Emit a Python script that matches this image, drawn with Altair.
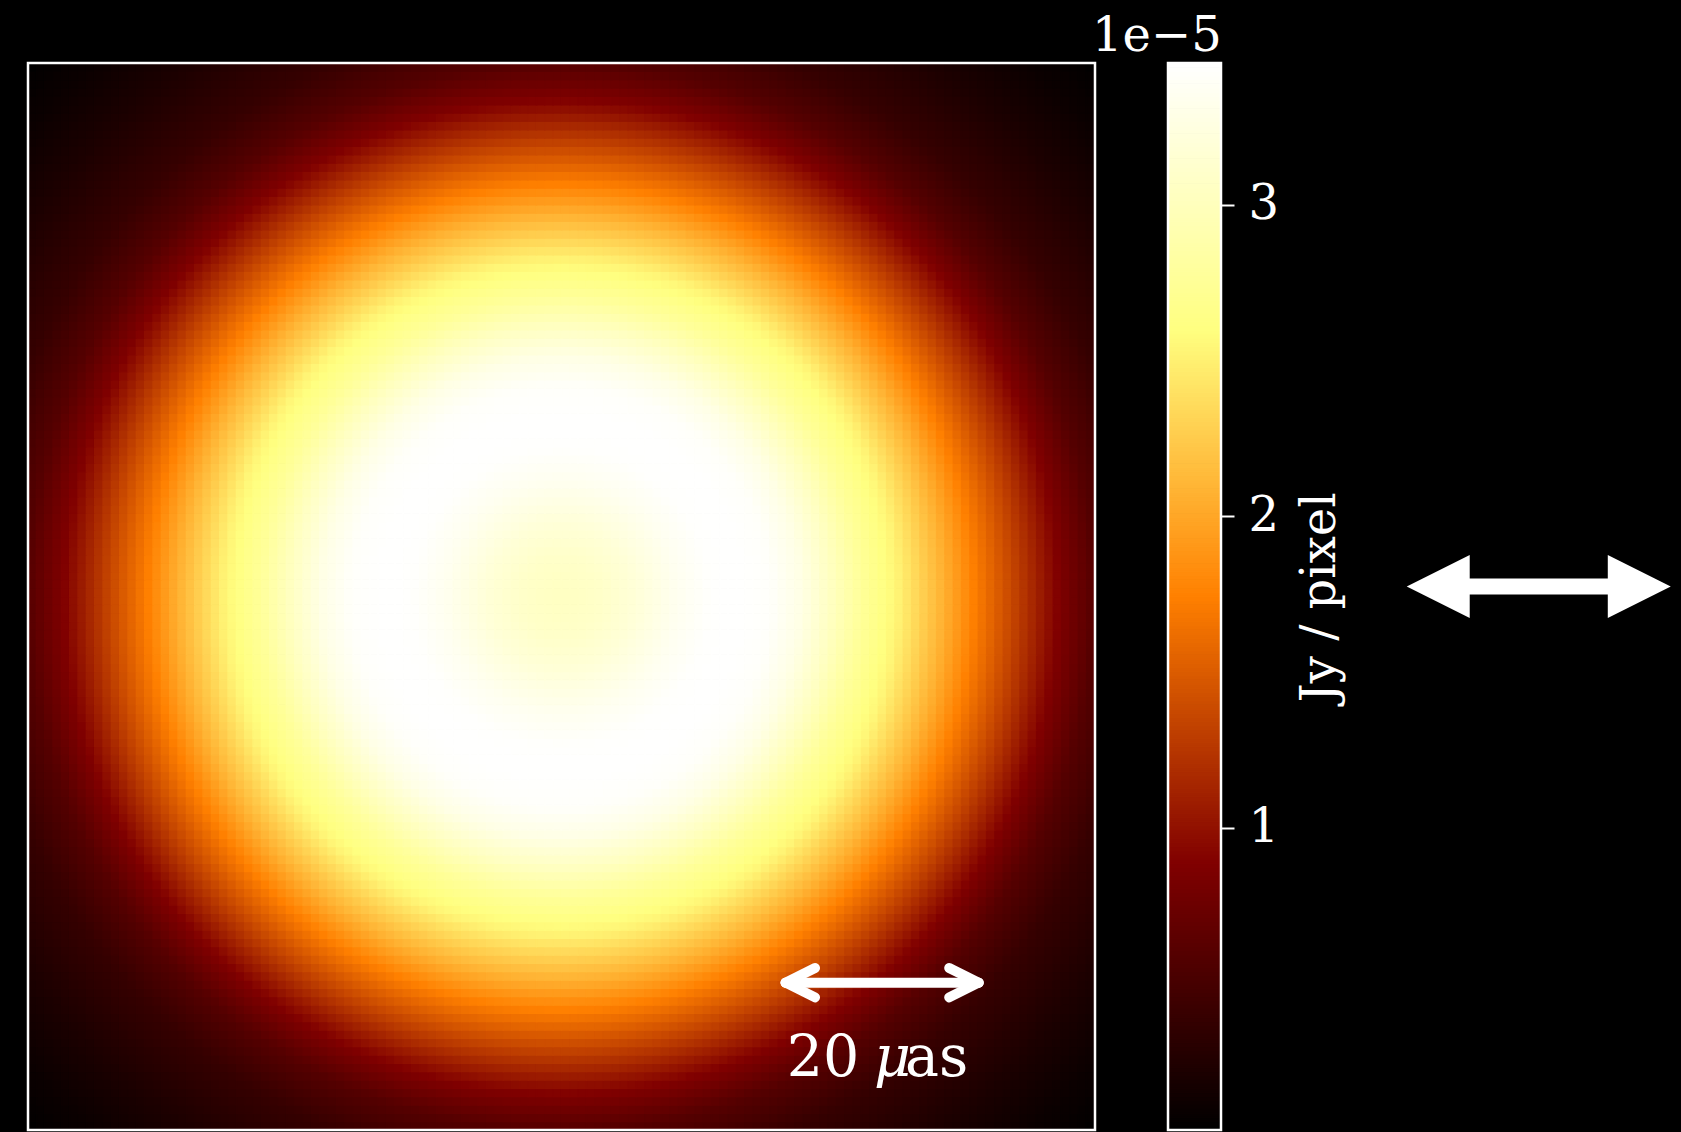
import numpy as np
import pandas as pd
import altair as alt

# ---- data ----
# azimuthally averaged brightness profile of the blurred ring
RADIUS_UAS = [0.0, 3.94, 6.99, 11.42, 14.76, 17.71, 20.67, 23.62, 26.57, 29.52,
              33.07, 37.49, 40.64, 44.97, 48.91, 52.55, 57.08, 63.87, 69.48, 74.79]
FLUX_1E5 = [3.04, 3.09, 3.18, 3.35, 3.44, 3.45, 3.42, 3.28, 3.04, 2.77,
            2.53, 2.09, 1.74, 1.30, 0.89, 0.60, 0.39, 0.22, 0.11, 0.03]

N_PIX = 128            # image pixels per side
FOV_UAS = 105.0        # field of view
CBAR_MIN = 0.031       # colour-scale limits (1e-5 Jy / pixel)
CBAR_MAX = 3.454
CBAR_TICKS = [1, 2, 3]
CBAR_TITLE = "Jy / pixel"
CBAR_OFFSET = "1e\u22125"

SCALEBAR_X = [22.05, 41.05]   # μas
SCALEBAR_Y = -38.0
SCALEBAR_LABEL = ["20", "\u03bc", "as"]

AFMHOT = ["#000000", "#800000", "#ff8000", "#ffff80", "#ffffff"]
FONT = "DejaVu Serif"
W_IMG, W_CB, H = 1067, 53, 1067

# black page behind the chart
try:
    from altair.utils import html as _alt_html

    class _BlackPage:
        def __init__(self, tpl):
            self.tpl = tpl

        def render(self, *a, **k):
            out = self.tpl.render(*a, **k)
            return out.replace("<head>", "<head>\n<style>html,body{background:#000000;}</style>", 1)

    for _k in list(_alt_html.TEMPLATES):
        _alt_html.TEMPLATES[_k] = _BlackPage(_alt_html.TEMPLATES[_k])
except Exception:
    pass

# ---- build tables ----
half = FOV_UAS / 2
cell = FOV_UAS / N_PIX
centers = -half + (np.arange(N_PIX) + 0.5) * cell
X, Y = np.meshgrid(centers, centers)
V = np.interp(np.hypot(X, Y), RADIUS_UAS, FLUX_1E5)
img = pd.DataFrame({
    "x": np.round(X.ravel() - cell / 2, 4),
    "x2": np.round(X.ravel() + cell / 2, 4),
    "y": np.round(Y.ravel() - cell / 2, 4),
    "y2": np.round(Y.ravel() + cell / 2, 4),
    "v": np.round(V.ravel(), 4),
})

stops = [CBAR_MIN + k * (CBAR_MAX - CBAR_MIN) / 4 for k in range(5)]
cscale = alt.Scale(domain=stops, range=AFMHOT, interpolate="rgb", clamp=True)
pos = alt.Scale(domain=[-half, half], nice=False, zero=False)

pixels = alt.Chart(img).mark_rect(strokeWidth=1.4).encode(
    x=alt.X("x:Q", scale=pos, axis=None),
    x2="x2:Q",
    y=alt.Y("y:Q", scale=pos, axis=None),
    y2="y2:Q",
    color=alt.Color("v:Q", scale=cscale, legend=None),
    stroke=alt.Stroke("v:Q", scale=cscale, legend=None),
)

x0, x1 = SCALEBAR_X
hx, hy = 2.9, 1.45
bar = pd.DataFrame({
    "x": [x0, x0, x0, x1, x1],
    "x2": [x1, x0 + hx, x0 + hx, x1 - hx, x1 - hx],
    "y": [SCALEBAR_Y] * 5,
    "y2": [SCALEBAR_Y, SCALEBAR_Y + hy, SCALEBAR_Y - hy, SCALEBAR_Y + hy, SCALEBAR_Y - hy],
})
scalebar = alt.Chart(bar).mark_rule(color="white", strokeWidth=10, strokeCap="round").encode(
    x="x:Q", x2="x2:Q", y="y:Q", y2="y2:Q"
)

lab_up = pd.DataFrame({"t": [SCALEBAR_LABEL[0], SCALEBAR_LABEL[2]], "x": [22.17, 33.81], "y": [-47.14, -47.14]})
lab_it = pd.DataFrame({"t": [SCALEBAR_LABEL[1]], "x": [30.76], "y": [-47.14]})
txt_up = alt.Chart(lab_up).mark_text(font=FONT, fontSize=57, color="white", align="left",
                                     baseline="alphabetic").encode(x="x:Q", y="y:Q", text="t:N")
txt_it = alt.Chart(lab_it).mark_text(font=FONT, fontSize=57, fontStyle="italic", color="white",
                                     align="left", baseline="alphabetic").encode(x="x:Q", y="y:Q", text="t:N")

one = pd.DataFrame({"k": [1]})
frame_img = alt.Chart(one).mark_rect(fill=None, stroke="white", strokeWidth=2.5).encode(
    x=alt.value(0), x2=alt.value(W_IMG), y=alt.value(0), y2=alt.value(H))

image = alt.layer(pixels, scalebar, txt_up, txt_it, frame_img).properties(width=W_IMG, height=H)

# ---- colour bar ----
cb_edges = np.linspace(CBAR_MIN, CBAR_MAX, 257)
cb = pd.DataFrame({"lo": cb_edges[:-1], "hi": cb_edges[1:], "mid": (cb_edges[:-1] + cb_edges[1:]) / 2})
cbar_rects = alt.Chart(cb).mark_rect(strokeWidth=1.4).encode(
    x=alt.value(0), x2=alt.value(W_CB),
    y=alt.Y("lo:Q", scale=alt.Scale(domain=[CBAR_MIN, CBAR_MAX], nice=False, zero=False),
            axis=alt.Axis(orient="right", values=CBAR_TICKS, format="d", title=CBAR_TITLE,
                          titleAngle=270, titleX=113, titleY=534, titleAlign="center",
                          titleBaseline="alphabetic", titleFont=FONT, titleFontSize=48,
                          titleFontWeight="normal", titleColor="white",
                          labelFont=FONT, labelFontSize=48, labelColor="white", labelPadding=14,
                          tickColor="white", tickSize=13, tickWidth=2, domain=False, grid=False)),
    y2="hi:Q",
    color=alt.Color("mid:Q", scale=cscale, legend=None),
    stroke=alt.Stroke("mid:Q", scale=cscale, legend=None),
)
frame_cb = alt.Chart(one).mark_rect(fill=None, stroke="white", strokeWidth=2.5).encode(
    x=alt.value(0), x2=alt.value(W_CB), y=alt.value(0), y2=alt.value(H))
offset_txt = alt.Chart(pd.DataFrame({"t": [CBAR_OFFSET]})).mark_text(
    font=FONT, fontSize=48, color="white", align="left", baseline="alphabetic"
).encode(x=alt.value(-76), y=alt.value(-12.5), text="t:N")

ARROW = ("M -1 0 L -0.523 -0.2386 L -0.523 -0.0606 L 0.523 -0.0606 L 0.523 -0.2386 L 1 0 "
         "L 0.523 0.2386 L 0.523 0.0606 L -0.523 0.0606 L -0.523 0.2386 Z")
big_arrow = alt.Chart(one).mark_point(
    shape=ARROW, filled=True, color="white", opacity=1, size=264 * 264, strokeWidth=0
).encode(x=alt.value(370.75), y=alt.value(523.5))

colorbar = alt.layer(cbar_rects, frame_cb, offset_txt, big_arrow).properties(width=W_CB, height=H)

chart = alt.hconcat(image, colorbar, spacing=73, bounds="flush").properties(
    padding={"left": 18, "top": 4, "right": 0, "bottom": 0},
).configure(background="black").configure_view(stroke=None, fill=None)

chart.save("out.html", embed_options={"renderer": "svg", "actions": False})
